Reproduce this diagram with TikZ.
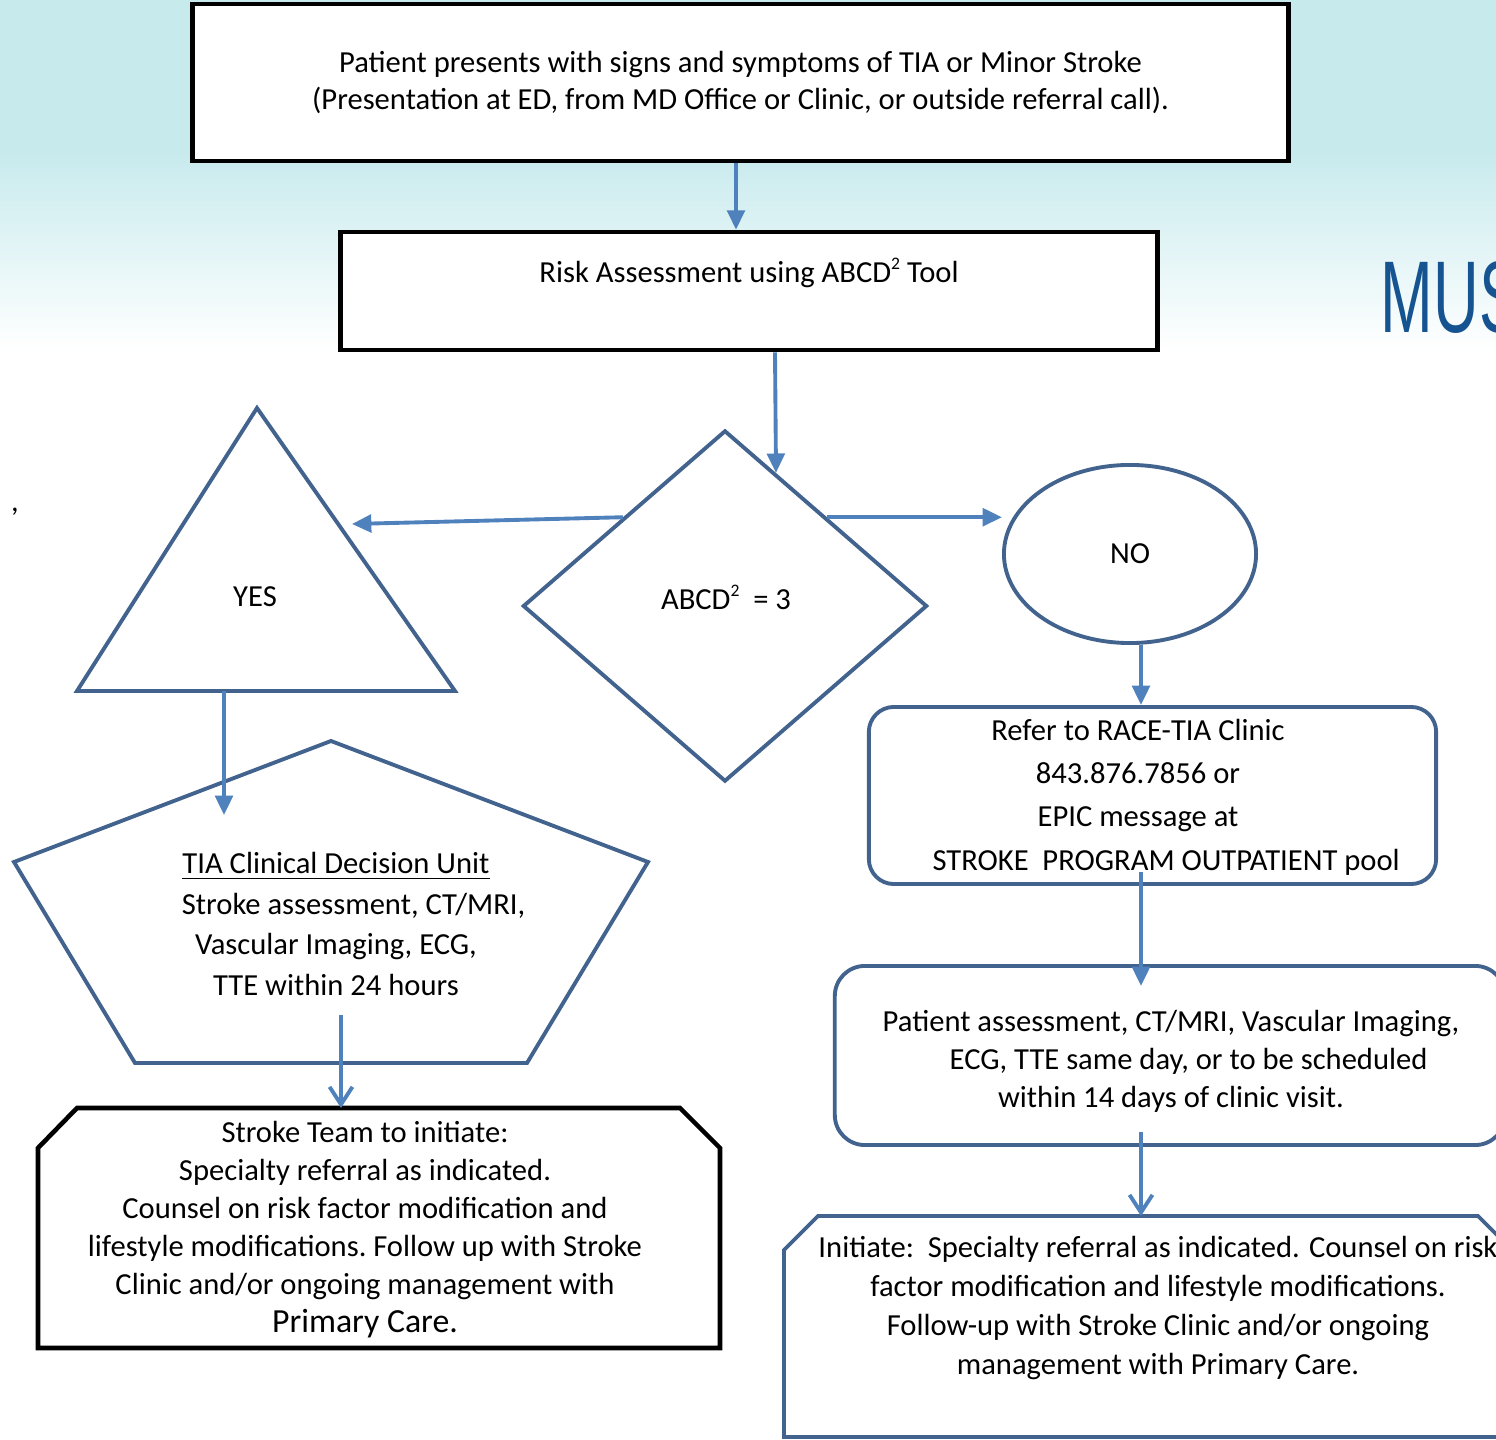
\documentclass[tikz,border=0pt]{standalone}
\usepackage{fontspec}
\setmainfont{Carlito}
\newfontfamily\logofont[FakeStretch=0.62]{Liberation Sans}
\usepackage{tikz}
\definecolor{sky}{RGB}{199,234,237}
\definecolor{flow}{RGB}{79,129,189}
\definecolor{edge}{RGB}{66,99,142}
\definecolor{logo}{RGB}{22,84,145}
\usetikzlibrary{shapes.geometric,arrows.meta,calc}
\newcommand{\sqr}{\raisebox{0.9ex}{\fontsize{5}{5}\selectfont 2}}

\begin{document}
\begin{tikzpicture}[x=0.01cm,y=-0.01cm,
        txt/.style={align=center,inner sep=0pt,font=\fontsize{8.7}{10.8}\selectfont},
        blackbox/.style={draw=black,line width=1.3pt,fill=white,rectangle,inner sep=0pt},
        bluebox/.style={draw=edge,line width=1.1pt,fill=white,inner sep=0pt},
        arr/.style={draw=flow,line width=1.1pt,-{Triangle[length=5.5pt,width=5pt]}},
        openarr/.style={draw=flow,line width=1.1pt,-{Straight Barb[length=5pt,width=6.5pt]}}]
        \clip (0,0) rectangle (1496,1440);
        \fill[white] (0,0) rectangle (1496,1440);
        \fill[sky] (0,0) rectangle (1496,150);
        \shade[top color=sky,bottom color=white] (0,150) rectangle (1496,350);

        \node[anchor=base west,inner sep=0pt,text=logo,font=\logofont\fontsize{29}{29}\selectfont] (logo) at (1380,333) {MUS};
        \node[txt] (tick) at (15,512) {,};

        \node[blackbox,txt,minimum width=10.95cm,minimum height=1.57cm] (present) at (740.5,82.5)
            {Patient presents with signs and symptoms of TIA or Minor Stroke\\(Presentation at ED, from MD Office or Clinic, or outside referral call).};
        \node[blackbox,minimum width=8.16cm,minimum height=1.18cm] (risk) at (749,291) {};
        \node[txt] (risktext) at (749,273) {Risk Assessment using ABCD\sqr\ Tool};

        \node[diamond,bluebox,minimum width=4.04cm,minimum height=3.51cm] (score) at (725,606) {};
        \node[txt] (scoretext) at (726,597) {ABCD\sqr\ \ = 3};

        \draw[edge,line width=1.1pt,fill=white] (257,408) coordinate (yes-top) -- (455,691) coordinate (yes-right)
            -- (77,691) coordinate (yes-left) -- cycle;
        \node[txt] (yes) at (255,597) {YES};
        \coordinate (yes-in) at (352,524);

        \node[ellipse,bluebox,txt,minimum width=2.52cm,minimum height=1.78cm] (no) at (1130,554) {NO};

        \node[rectangle,rounded corners=0.25cm,bluebox,minimum width=5.67cm,minimum height=1.77cm] (race) at (1152.5,795.5) {};
        \node[txt,font=\fontsize{8.7}{12.3}\selectfont] (racetext) at (1138,797)
            {Refer to RACE-TIA Clinic\\843.876.7856 or\\EPIC message at\\\hspace*{16pt}STROKE\ \ PROGRAM OUTPATIENT pool};

        \draw[edge,line width=1.1pt,fill=white] (331,741) coordinate (cdu-top) -- (648,862) -- (527,1063)
            -- (135,1063) -- (14,862) -- cycle;
        \node[txt,font=\fontsize{8.7}{11.6}\selectfont] (cdu) at (336,924)
            {\underline{TIA Clinical Decision Unit}\\\hspace*{10pt}Stroke assessment, CT/MRI,\\Vascular Imaging, ECG,\hspace*{6pt}\\TTE within 24 hours};

        \node[rectangle,rounded corners=0.3cm,bluebox,minimum width=6.7cm,minimum height=1.79cm] (assess) at (1170,1055.5) {};
        \node[txt] (assesstext) at (1171,1061)
            {Patient assessment, CT/MRI, Vascular Imaging,\\\hspace*{10pt}ECG, TTE same day, or to be scheduled\\within 14 days of clinic visit.};

        \draw[black,line width=1.3pt,fill=white] (38,1148) -- (77,1108) coordinate (team-top) -- (680,1108)
            -- (720,1148) -- (720,1348) -- (38,1348) -- cycle;
        \node[txt] (team) at (365,1230)
            {Stroke Team to initiate:\\Specialty referral as indicated.\\Counsel on risk factor modification and\\lifestyle modifications.\ Follow up with Stroke\\Clinic and/or ongoing management with\\{\fontsize{9.6}{10.8}\selectfont Primary Care.}};

        \draw[edge,line width=1.1pt,fill=white] (784,1250) -- (818,1216) coordinate (init-top) -- (1478,1216)
            -- (1512,1250) -- (1512,1437) -- (784,1437) -- cycle;
        \node[txt,font=\fontsize{8.7}{11.1}\selectfont] (init) at (1158,1308)
            {Initiate:\ \ Specialty referral as indicated. Counsel on risk\\factor modification and lifestyle modifications.\\Follow-up with Stroke Clinic and/or ongoing\\management with Primary Care.};

        \draw[arr] (present.south -| 736,0) -- (risk.north -| 736,0);
        \draw[arr] (risk.south -| 775,0) -- ($(score.north)!0.25!(score.east)$);
        \draw[arr] ($(score.north)!0.5!(score.west)$) -- (yes-in);
        \draw[arr] ($(score.north)!0.5!(score.east)$) coordinate (no-out) -- (no-out -| no.west);
        \draw[arr] (no.south -| 1141,0) -- (race.north -| 1141,0);
        \draw[arr] ($(race.south -| 1141,0)+(0,-14)$) -- ($(assess.north -| 1141,0)+(0,22)$);
        \draw[openarr] ($(assess.south -| 1141,0)+(0,-15)$) -- (init-top -| 1141,0);
        \draw[arr] (yes-left -| 224,0) -- ($(yes-left -| 224,0)+(0,124)$);
        \draw[openarr] ($(team-top -| 341,0)+(0,-93)$) -- (team-top -| 341,0);
    \end{tikzpicture}
\end{document}
